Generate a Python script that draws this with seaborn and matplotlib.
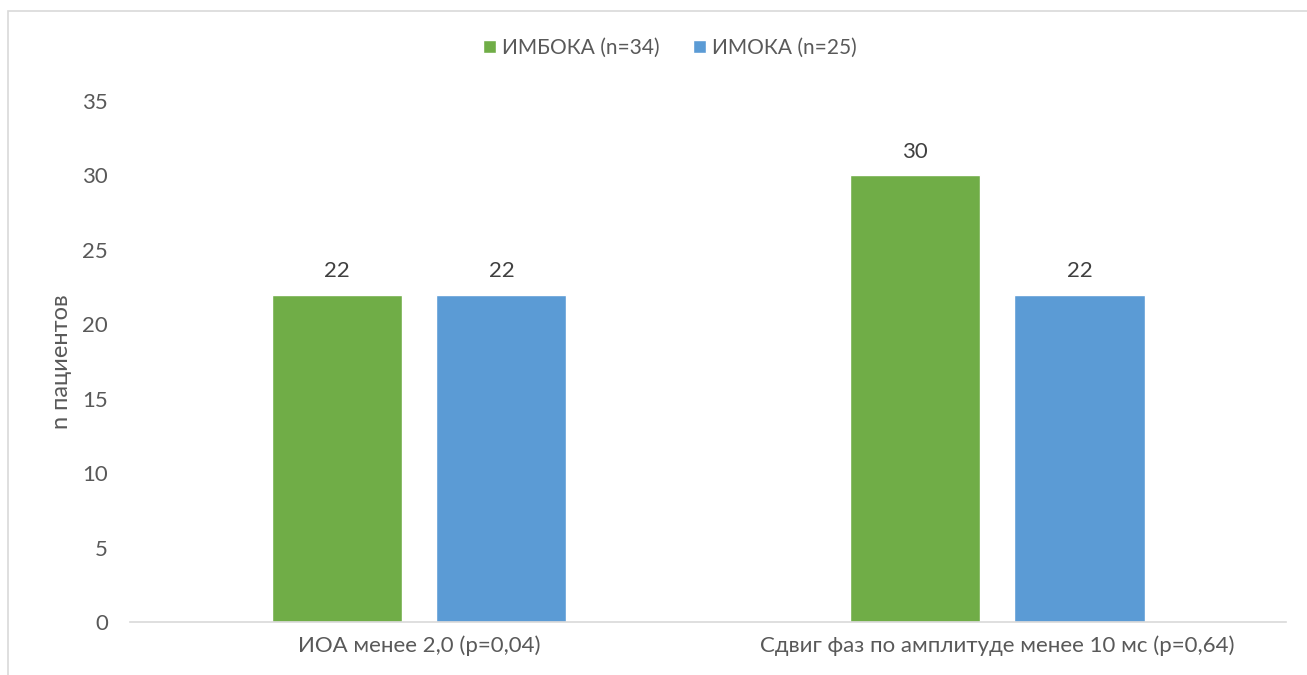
import matplotlib
matplotlib.use("Agg")
import matplotlib.pyplot as plt
import seaborn as sns
import pandas as pd
from matplotlib.patches import Rectangle

categories = ["ИОА менее 2,0 (p=0,04)", "Сдвиг фаз по амплитуде менее 10 мс (p=0,64)"]
groups = ["ИМБОКА (n=34)", "ИМОКА (n=25)"]
imboka_values = [22, 30]
imoka_values = [22, 22]
y_ticks = [0, 5, 10, 15, 20, 25, 30, 35]

df = pd.DataFrame({
    "category": categories * 2,
    "group": [groups[0]] * 2 + [groups[1]] * 2,
    "value": imboka_values + imoka_values,
})

sns.set_theme(style="white")
plt.rcParams["font.family"] = ["Lato", "DejaVu Sans"]
text_color = "#595959"
fs = 16

fig = plt.figure(figsize=(13.07, 6.75), dpi=100)
ax = fig.add_axes([0.0995, 0.0785, 0.8845, 0.7719])

palette = {groups[0]: "#70AD47", groups[1]: "#5B9BD5"}
sns.barplot(data=df, x="category", y="value", hue="group", hue_order=groups,
            order=categories, palette=palette, width=0.57, gap=0.21,
            saturation=1, ax=ax, legend=True)

for container in ax.containers:
    ax.bar_label(container, labels=[f"{v:g}" for v in container.datavalues],
                 padding=10, fontsize=fs, color="#404040")

ax.set_ylim(0, 35)
ax.set_yticks(y_ticks)
ax.set_xlim(-0.5, 1.5)
ax.tick_params(axis="both", length=0, labelsize=fs, colors=text_color)
ax.tick_params(axis="y", pad=16)
ax.tick_params(axis="x", pad=10)
ax.set_xlabel("")
ax.set_ylabel("n пациентов", fontsize=fs + 1, color=text_color)
ax.yaxis.set_label_coords(-0.050, 0.5)

for side in ["top", "right", "left"]:
    ax.spines[side].set_visible(False)
ax.spines["bottom"].set_color("#d9d9d9")
ax.spines["bottom"].set_linewidth(1.2)

leg = ax.legend(loc="center", bbox_to_anchor=(0.467, 1.102), ncol=2, frameon=False,
                fontsize=15, handlelength=0.6, handleheight=0.6, handletextpad=0.3,
                columnspacing=1.6)
for t in leg.get_texts():
    t.set_color(text_color)

fig.patches.append(Rectangle((8 / 1307, -0.05), 1.1, 1.05 - 11 / 675,
                             transform=fig.transFigure, fill=False,
                             edgecolor="#d9d9d9", linewidth=1.2))

fig.savefig("out.png", dpi=100)
